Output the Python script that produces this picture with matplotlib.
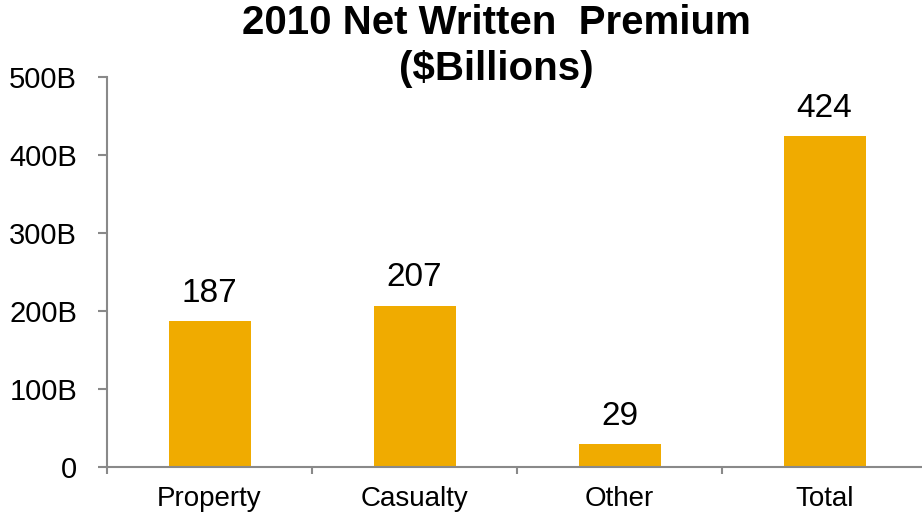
import matplotlib.pyplot as plt
from matplotlib.ticker import FuncFormatter, FixedLocator

categories = ["Property", "Casualty", "Other", "Total"]
values = [187, 207, 29, 424]
yticks = [0, 100, 200, 300, 400, 500]

bar_color = "#F0AB00"
spine_color = "#898989"

plt.rcParams['font.family'] = ['Liberation Sans', 'DejaVu Sans']

fig = plt.figure(figsize=(9.22, 5.16), dpi=100)
ax = fig.add_axes([107 / 922, 49 / 516, 820 / 922, 390 / 516])

x = list(range(len(categories)))
bars = ax.bar(x, values, width=0.4, color=bar_color, zorder=2)

for xi, v in zip(x, values):
    ax.annotate(str(v), (xi, v), xytext=(0, 20), textcoords="offset points",
                ha="center", va="center", fontsize=24)

ax.set_xlim(-0.5, len(categories) - 0.5)
ax.set_ylim(0, 500)
ax.set_yticks(yticks)
ax.yaxis.set_major_formatter(FuncFormatter(lambda v, p: "0" if v == 0 else f"{int(v)}B"))

ax.set_xticks(x)
ax.set_xticklabels(categories)
ax.xaxis.set_minor_locator(FixedLocator([i - 0.5 for i in range(len(categories) + 1)]))
ax.tick_params(axis="x", which="major", length=0, pad=14, labelsize=20)
ax.tick_params(axis="x", which="minor", length=5, width=1.5, color=spine_color, direction="out")
ax.tick_params(axis="y", length=6.5, width=1.5, color=spine_color, pad=15, labelsize=21)

for s in ["top", "right"]:
    ax.spines[s].set_visible(False)
for s in ["left", "bottom"]:
    ax.spines[s].set_color(spine_color)
    ax.spines[s].set_linewidth(1.5)

fig.text(496 / 922, 1 - 23 / 516, "2010 Net Written  Premium", ha="center", va="center",
         fontsize=29, fontweight="bold")
fig.text(496 / 922, 1 - 69 / 516, "($Billions)", ha="center", va="center",
         fontsize=29, fontweight="bold")

fig.savefig("out.png", dpi=100)
